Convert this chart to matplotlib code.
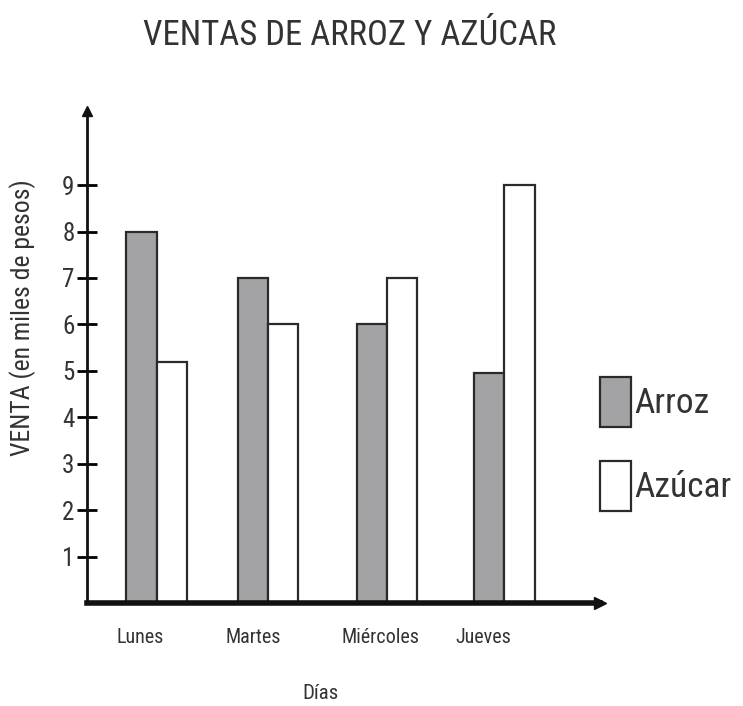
import matplotlib
matplotlib.use("Agg")
import numpy as np
import matplotlib.pyplot as plt

plt.rcParams['font.family'] = ['Roboto Condensed', 'Liberation Sans Narrow', 'Lato', 'DejaVu Sans']

dias = ['Lunes', 'Martes', 'Miércoles', 'Jueves']
arroz = [8, 7, 6, 4.95]
azucar = [5.2, 6, 7, 9]
yticks = [1, 2, 3, 4, 5, 6, 7, 8, 9]

txt = '#333333'
gris = '#a3a3a5'

fig = plt.figure(figsize=(7.43, 7.06), dpi=100)
ax = fig.add_axes([0.117, 0.146, 0.69, 0.697])

x = np.array([0, 0.96, 1.99, 3.0])
w = 0.26
ax.bar(x - w / 2, arroz, w, color=gris, edgecolor='#2a2a2a', linewidth=1.6, label='Arroz')
ax.bar(x + w / 2, azucar, w, color='white', edgecolor='#2a2a2a', linewidth=1.6, label='Azúcar')

ax.set_xlim(-0.6, 3.82)
ax.set_ylim(0, 10.6)

for s in ['top', 'right']:
    ax.spines[s].set_visible(False)
ax.spines['left'].set_linewidth(2)
ax.spines['bottom'].set_linewidth(4)
ax.spines['left'].set_color('#111111')
ax.spines['bottom'].set_color('#111111')

# flechas al final de los ejes
ax.plot(1, 0, marker='>', color='#111111', markersize=9, transform=ax.transAxes, clip_on=False)
ax.plot(0, 1, marker='^', color='#111111', markersize=7, transform=ax.transAxes, clip_on=False)

ax.set_yticks(yticks)
ax.set_yticklabels([str(v) for v in yticks], fontsize=18, color=txt)
ax.tick_params(axis='y', direction='inout', length=14, width=2, pad=2)
# etiquetas de los dias un poco corridas hacia la barra de arroz
ax.set_xticks(x - np.array([0.14, 0.13, 0.06, 0.18]))
ax.set_xticklabels(dias, fontsize=14.5, color=txt)
ax.tick_params(axis='x', length=0, pad=18)

ax.set_xlabel('Días', fontsize=15, color=txt)
ax.xaxis.set_label_coords(0.455, -0.165)
fig.text(0.03, 0.55, 'VENTA (en miles de pesos)', rotation=90, fontsize=18.5,
         color=txt, ha='center', va='center')
fig.text(0.47, 0.95, 'VENTAS DE ARROZ Y AZÚCAR', fontsize=25, color=txt,
         ha='center', va='center')

ax.legend(loc='upper left', bbox_to_anchor=(0.807, 0.466), bbox_transform=fig.transFigure,
          frameon=False, fontsize=25.5, handlelength=0.9, handleheight=1.8,
          labelspacing=0.95, handletextpad=0.08, borderpad=0, borderaxespad=0,
          labelcolor=txt)

fig.savefig('out.png', dpi=100)
